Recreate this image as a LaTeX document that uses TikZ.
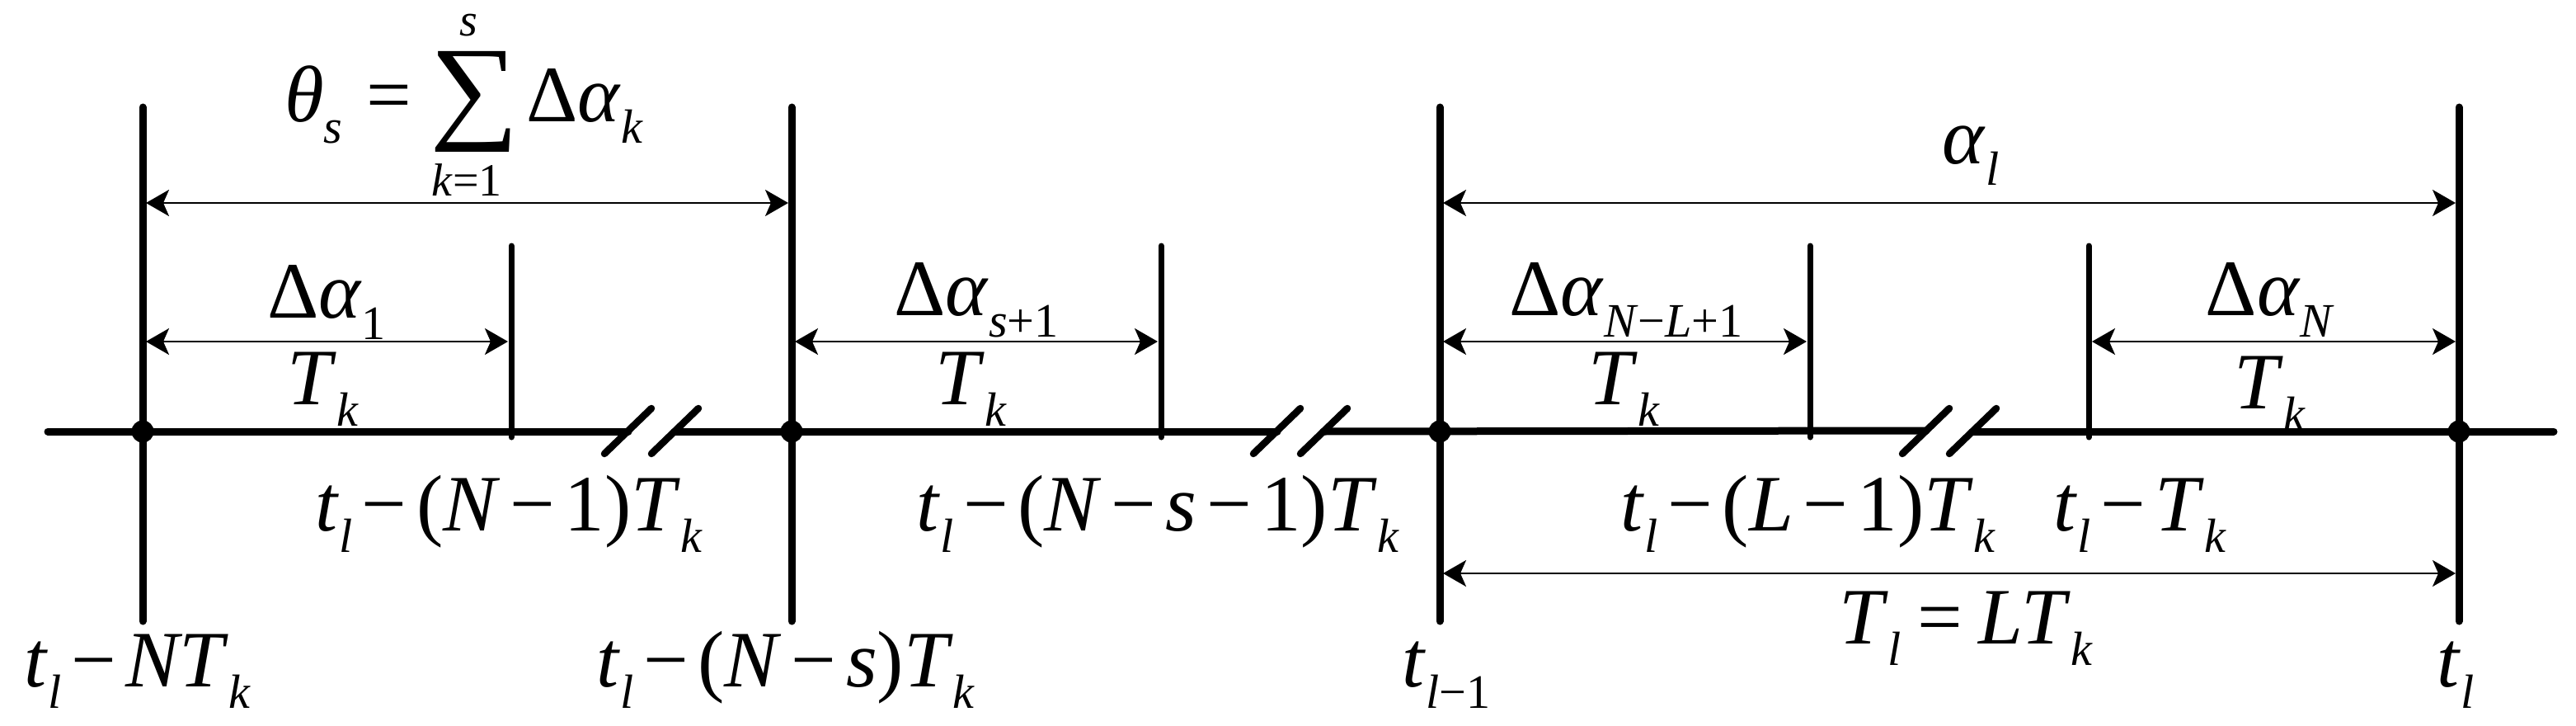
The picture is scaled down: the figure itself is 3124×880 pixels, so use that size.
\documentclass[tikz,border=0pt]{standalone}
\usepackage{fontspec}
\setmainfont{Liberation Serif}
\usepackage{graphicx}
\usetikzlibrary{arrows.meta}
\newcommand\vv[1]{\textit{#1}}
\newcommand\sbx[1]{\raisebox{-0.27em}{\scalebox{0.6}{#1}}}
\newcommand\mns{\hspace{0.12em}−\hspace{0.12em}}
\begin{document}
\begin{tikzpicture}[x=1pt,y=-1pt,
  lbl/.style={font=\fontsize{97}{100}\selectfont, inner sep=0pt, anchor=base},
  sml/.style={font=\fontsize{56}{60}\selectfont, inner sep=0pt, anchor=base},
  tall/.style={line width=9pt, line cap=round},
  shortln/.style={line width=7pt, line cap=round},
  axisline/.style={line width=9pt, line cap=round},
  brk/.style={line width=8.5pt, line cap=round},
  dim/.style={line width=2.5pt, {Stealth[length=28pt,width=32pt,inset=7pt]}-{Stealth[length=28pt,width=32pt,inset=7pt]}, shorten <=4pt, shorten >=4pt},
  dot/.style={circle, fill, inner sep=0pt, minimum size=27pt}]
\useasboundingbox (0,0) rectangle (3124,880);
% tall lines
\coordinate (At) at (173,130); \coordinate (Ab) at (173,753);
\coordinate (Bt) at (960,130); \coordinate (Bb) at (960,753);
\coordinate (Ct) at (1746,130); \coordinate (Cb) at (1746,753);
\coordinate (Dt) at (2982,130); \coordinate (Db) at (2982,753);
\draw[tall] (At) -- (Ab);
\draw[tall] (Bt) -- (Bb);
\draw[tall] (Ct) -- (Cb);
\draw[tall] (Dt) -- (Db);
% short lines
\coordinate (at) at (620,298); \coordinate (ab) at (620,530);
\coordinate (bt) at (1408,298); \coordinate (bb) at (1408,530);
\coordinate (ct) at (2195,298); \coordinate (cb) at (2195,530);
\coordinate (dt) at (2533,298); \coordinate (db) at (2533,530);
\draw[shortln] (at) -- (ab);
\draw[shortln] (bt) -- (bb);
\draw[shortln] (ct) -- (cb);
\draw[shortln] (dt) -- (db);
% axis
\coordinate (x0) at (58,523);
\coordinate (x1) at (762,523); \coordinate (x2) at (818,523);
\coordinate (x3) at (1549,523); \coordinate (x4) at (1605,523);
\coordinate (x5) at (2336,522); \coordinate (x6) at (2392,523);
\coordinate (x7) at (3097,523);
\draw[axisline] (x0) -- (x1);
\draw[axisline] (x2) -- (x3);
\draw[axisline] (x4) -- (x5);
\draw[axisline] (x6) -- (x7);
% breaks
\foreach \c in {790,1577,2364}{
  \draw[brk] (\c-57,550) -- (\c,495);
  \draw[brk] (\c,550) -- (\c+57,495);
}
% dots
\node[dot] (dA) at (173,523) {};
\node[dot] (dB) at (960,523) {};
\node[dot] (dC) at (1746,523) {};
\node[dot] (dD) at (2982,523) {};
% dimension arrows
\coordinate (u1) at (173,246); \coordinate (u2) at (960,246);
\coordinate (u3) at (1746,246); \coordinate (u4) at (2982,246);
\draw[dim] (u1) -- (u2);
\draw[dim] (u3) -- (u4);
\coordinate (v1) at (173,414); \coordinate (v2) at (620,414);
\coordinate (v3) at (960,414); \coordinate (v4) at (1408,414);
\coordinate (v5) at (1746,414); \coordinate (v6) at (2195,414);
\coordinate (v7) at (2533,414); \coordinate (v8) at (2982,414);
\draw[dim] (v1) -- (v2);
\draw[dim] (v3) -- (v4);
\draw[dim] (v5) -- (v6);
\draw[dim] (v7) -- (v8);
\coordinate (w1) at (1746,695); \coordinate (w2) at (2982,695);
\draw[dim] (w1) -- (w2);
% top formula
\node[lbl, anchor=base west] (th) at (345,147) {\vv{θ}\sbx{\vv{s}}\hspace{0.3em}=};
\node[inner sep=0pt] (sig) at (576,123) {\resizebox*{108pt}{122pt}{∑}};
\node[sml] (sup) at (568,44) {\vv{s}};
\node[sml] (sub) at (566,237) {\vv{k}=1};
\node[lbl, anchor=base west] (da) at (638,147) {Δ\vv{α}\sbx{\vv{k}}};
\node[lbl] (al) at (2390,198) {\vv{α}\sbx{\vv{l}}};
% interval labels
\node[lbl] (d1) at (396,385) {Δ\vv{α}\sbx{1}};
\node[lbl] (k1) at (392,490) {\vv{T}\sbx{\vv{k}}};
\node[lbl] (d2) at (1184,382) {Δ\vv{α}\sbx{\vv{s}+1}};
\node[lbl] (k2) at (1178,490) {\vv{T}\sbx{\vv{k}}};
\node[lbl] (d3) at (1972,382) {Δ\vv{α}\sbx{\vv{N}−\vv{L}+1}};
\node[lbl] (k3) at (1970,490) {\vv{T}\sbx{\vv{k}}};
\node[lbl] (d4) at (2753,382) {Δ\vv{α}\sbx{\vv{N}}};
\node[lbl] (k4) at (2753,495) {\vv{T}\sbx{\vv{k}}};
% lower labels
\node[lbl] (m1) at (617,643) {\vv{t}\sbx{\vv{l}}\mns(\vv{N}\mns1)\vv{T}\sbx{\vv{k}}};
\node[lbl] (m2) at (1404,643) {\vv{t}\sbx{\vv{l}}\mns(\vv{N}\mns\vv{s}\mns1)\vv{T}\sbx{\vv{k}}};
\node[lbl] (m3) at (2193,643) {\vv{t}\sbx{\vv{l}}\mns(\vv{L}\mns1)\vv{T}\sbx{\vv{k}}};
\node[lbl] (m4) at (2595,643) {\vv{t}\sbx{\vv{l}}\mns\vv{T}\sbx{\vv{k}}};
\node[lbl] (tl) at (2384,780) {\vv{T}\sbx{\vv{l}}\hspace{0.2em}=\hspace{0.2em}\vv{LT}\sbx{\vv{k}}};
\node[lbl] (b1) at (167,832) {\vv{t}\sbx{\vv{l}}\mns\vv{NT}\sbx{\vv{k}}};
\node[lbl] (b2) at (953,832) {\vv{t}\sbx{\vv{l}}\mns(\vv{N}\mns\vv{s})\vv{T}\sbx{\vv{k}}};
\node[lbl, anchor=base west] (b3) at (1700,832) {\vv{t}\sbx{\vv{l}−1}};
\node[lbl] (b4) at (2978,832) {\vv{t}\sbx{\vv{l}}};
\end{tikzpicture}
\end{document}
